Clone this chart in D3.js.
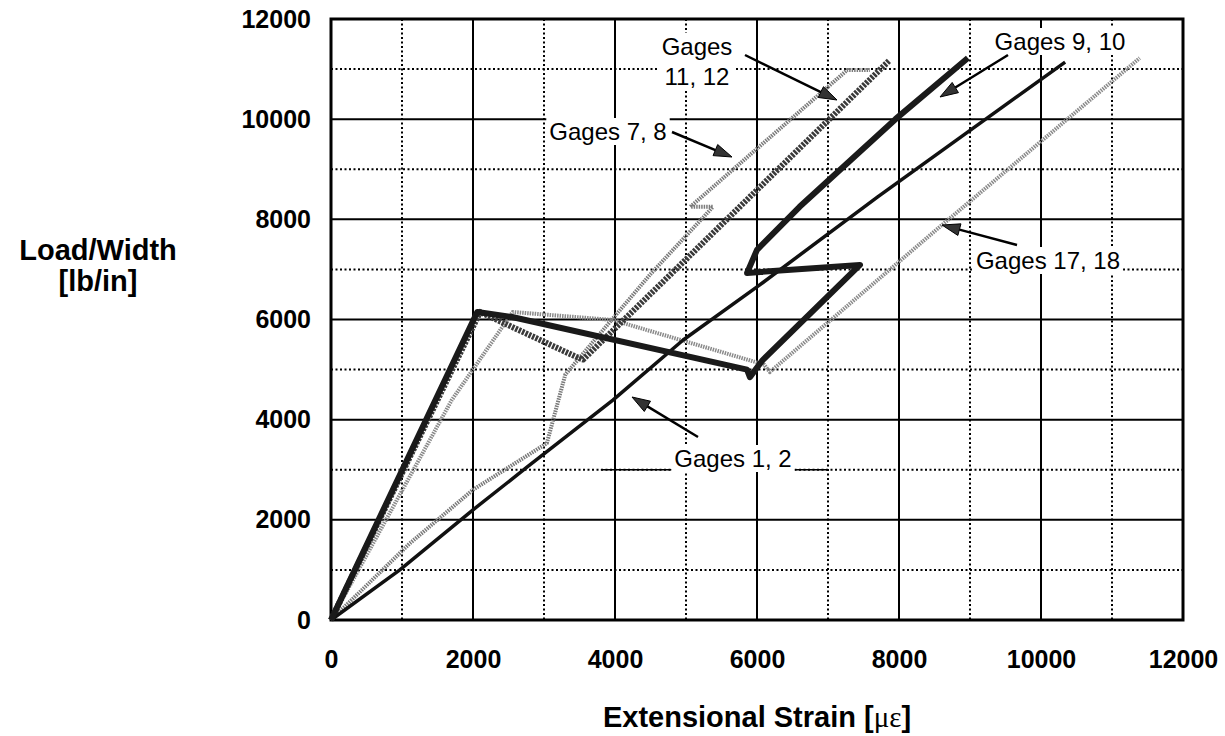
<!DOCTYPE html>
<html><head><meta charset="utf-8">
<script src="https://cdn.jsdelivr.net/npm/d3@7"></script>
<style>
body{margin:0;background:#fff;}
svg{display:block;}
</style></head>
<body><svg id="c" width="1225" height="736"></svg>
<script>
// ---- data ----
const xTicks = [0,2000,4000,6000,8000,10000,12000];
const yTicks = [0,2000,4000,6000,8000,10000,12000];
const minorTicks = [1000,3000,5000,7000,9000,11000];

const gages1_2 = [[0,0],[970,1000],[2000,2200],[2760,3050],[3970,4390],[4960,5590],[6000,6650],[7700,8450],[10340,11140]];
const gages9_10 = [[0,0],[2060,6150],[2550,6050],[5860,5000],[5900,4850],[6080,5190],[7450,7090],[5860,6930],[6000,7390],[6600,8250],[7950,10000],[8970,11220]];
const gages11_12 = [[0,0],[2100,6150],[3460,5250],[3550,5200],[5000,7200],[7870,11180]];
const gages7_8 = [[0,0],[1110,1530],[2000,2600],[3040,3530],[3300,4900],[4490,6890],[5380,8250],[5060,8250],[7270,10980],[7590,10980]];
const gages17_18 = [[0,0],[1700,4390],[2560,6150],[3970,5990],[6100,5100],[6180,4950],[8600,7880],[11390,11220]];

const labels = [
  {text:["Gages","11, 12"], x:697, y:[55,85], from:[745,55], to:[837,100]},
  {text:["Gages 7, 8"], x:608, y:[140], from:[672,132], to:[732,157]},
  {text:["Gages 9, 10"], x:1060, y:[50], from:[1008,55], to:[940,97]},
  {text:["Gages 17, 18"], x:1048, y:[269], from:[1017,245], to:[942,225]},
  {text:["Gages 1, 2"], x:733, y:[467], from:[698,437], to:[632,397]}
];

// ---- layout ----
const svg = d3.select("#c");
const L=331, R=1183, T=19, B=620;
const x = d3.scaleLinear().domain([0,12000]).range([L,R]);
const y = d3.scaleLinear().domain([0,12000]).range([B,T]);

// minor grid (dotted)
svg.append("g").selectAll("line").data(minorTicks).join("line")
  .attr("x1",d=>x(d)).attr("x2",d=>x(d)).attr("y1",T).attr("y2",B)
  .attr("stroke","#000").attr("stroke-width",2).attr("stroke-dasharray","2,2.5");
svg.append("g").selectAll("line").data(minorTicks).join("line")
  .attr("y1",d=>y(d)).attr("y2",d=>y(d)).attr("x1",L).attr("x2",R)
  .attr("stroke","#000").attr("stroke-width",2).attr("stroke-dasharray","2,2.5");
// major grid
svg.append("g").selectAll("line").data(xTicks.slice(1,-1)).join("line")
  .attr("x1",d=>x(d)).attr("x2",d=>x(d)).attr("y1",T).attr("y2",B)
  .attr("stroke","#000").attr("stroke-width",2);
svg.append("g").selectAll("line").data(yTicks.slice(1,-1)).join("line")
  .attr("y1",d=>y(d)).attr("y2",d=>y(d)).attr("x1",L).attr("x2",R)
  .attr("stroke","#000").attr("stroke-width",2);

// axes
const xa = svg.append("g").attr("transform",`translate(0,${B})`)
  .call(d3.axisBottom(x).tickValues(xTicks).tickSize(0).tickPadding(30).tickFormat(d3.format("d")));
const ya = svg.append("g").attr("transform",`translate(${L},0)`)
  .call(d3.axisLeft(y).tickValues(yTicks).tickSize(0).tickPadding(20).tickFormat(d3.format("d")));
[xa,ya].forEach(a=>{
  a.select(".domain").remove();
  a.selectAll("text").attr("font-family","'Liberation Sans',Arial,sans-serif")
   .attr("font-weight","bold").attr("font-size",25).attr("fill","#000");
});

// frame
svg.append("rect").attr("x",L).attr("y",T).attr("width",R-L).attr("height",B-T)
  .attr("fill","none").attr("stroke","#000").attr("stroke-width",3);

// series
const line = d3.line().x(d=>x(d[0])).y(d=>y(d[1]));
const styles = [
  {d:gages17_18, c:"#8a8a8a", w:4, dash:"1.5,1"},
  {d:gages7_8, c:"#7a7a7a", w:4, dash:"1.5,1"},
  {d:gages11_12, c:"#3a3a3a", w:6, dash:"2.5,1.2"},
  {d:gages1_2, c:"#111", w:3.5, dash:null},
  {d:gages9_10, c:"#1a1a1a", w:6, dash:null}
];
styles.forEach(s=>{
  svg.append("path").attr("d",line(s.d)).attr("fill","none")
    .attr("stroke",s.c).attr("stroke-width",s.w)
    .attr("stroke-linejoin","round")
    .attr("stroke-dasharray",s.dash);
});

// annotation leader under Gages 1,2
svg.append("line").attr("x1",x(3800)).attr("x2",x(7000)).attr("y1",y(3000)).attr("y2",y(3000))
  .attr("stroke","#000").attr("stroke-width",1.5);

// labels
const lf = "'Liberation Sans',Arial,sans-serif";
labels.forEach(l=>{
  const g = svg.append("g");
  l.text.forEach((t,i)=>g.append("text").attr("x",l.x).attr("y",l.y[i])
      .attr("text-anchor","middle").attr("font-family",lf).attr("font-size",24).attr("fill","#000").text(t));
  const bb = g.node().getBBox();
  g.insert("rect","text").attr("x",bb.x-3).attr("y",bb.y).attr("width",bb.width+6).attr("height",bb.height)
    .attr("fill","#fff");
  const [x1,y1]=l.from, [x2,y2]=l.to;
  const ang=Math.atan2(y2-y1,x2-x1), hl=18, hw=6;
  const bx=x2-hl*Math.cos(ang), by=y2-hl*Math.sin(ang);
  svg.append("line").attr("x1",x1).attr("y1",y1).attr("x2",bx).attr("y2",by)
    .attr("stroke","#000").attr("stroke-width",2.5);
  svg.append("path").attr("d",`M${x2},${y2}L${bx+hw*Math.sin(ang)},${by-hw*Math.cos(ang)}L${bx-hw*Math.sin(ang)},${by+hw*Math.cos(ang)}Z`)
    .attr("fill","#333").attr("stroke","#000").attr("stroke-width",1);
});

// axis titles
const xt = svg.append("text").attr("x",757).attr("y",727).attr("text-anchor","middle")
  .attr("font-family",lf).attr("font-weight","bold").attr("font-size",29);
xt.append("tspan").text("Extensional Strain [");
xt.append("tspan").attr("font-weight","normal").attr("font-family","'Liberation Serif','DejaVu Serif',serif").text("με");
xt.append("tspan").text("]");
svg.append("text").attr("x",98).attr("y",260).attr("text-anchor","middle")
  .attr("font-family",lf).attr("font-weight","bold").attr("font-size",29).text("Load/Width");
svg.append("text").attr("x",98).attr("y",291).attr("text-anchor","middle")
  .attr("font-family",lf).attr("font-weight","bold").attr("font-size",29).text("[lb/in]");
</script></body></html>
